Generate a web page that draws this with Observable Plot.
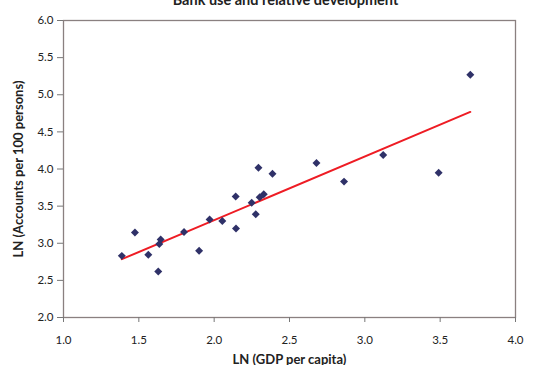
<!DOCTYPE html>
<html>
<head>
<meta charset="utf-8">
<script src="https://cdn.jsdelivr.net/npm/d3@7"></script>
<script src="https://cdn.jsdelivr.net/npm/@observablehq/plot@0.6"></script>
<style>
  html, body { margin: 0; padding: 0; background: #fff; overflow: hidden; }
  #chart svg { font-family: Lato, "DejaVu Sans", sans-serif; }
  g[aria-label="x-axis label"] text, g[aria-label="y-axis label"] text { font-weight: bold; font-size: 13px; fill: #222; }
</style>
</head>
<body>
<div id="chart"></div>
<script>
const title = "Bank use and relative development";
const xLabel = "LN (GDP per capita)";
const yLabel = "LN (Accounts per 100 persons)";
const xTicks = [1.0, 1.5, 2.0, 2.5, 3.0, 3.5, 4.0];
const yTicks = [2.0, 2.5, 3.0, 3.5, 4.0, 4.5, 5.0, 5.5, 6.0];

// LN(GDP per capita) and LN(Accounts per 100 persons)
const gdp = [1.387, 1.474, 1.563, 1.629, 1.636, 1.645, 1.80, 1.90, 1.97, 2.054, 2.145, 2.143,
             2.249, 2.276, 2.302, 2.329, 2.294, 2.387, 2.679, 2.862, 3.122, 3.49, 3.70];
const accounts = [2.83, 3.145, 2.845, 2.62, 2.99, 3.05, 3.15, 2.90, 3.32, 3.30, 3.20, 3.63,
                  3.545, 3.39, 3.62, 3.66, 4.016, 3.935, 4.08, 3.83, 4.19, 3.95, 5.27];

const data = gdp.map((x, i) => ({x, y: accounts[i]}));

const chart = Plot.plot({
  width: 536,
  height: 365,
  marginLeft: 63,
  marginRight: 21,
  marginTop: 20,
  marginBottom: 48,
  style: {fontSize: "11.5px", color: "#222", background: "#fff"},
  x: {domain: [1, 4]},
  y: {domain: [2, 6]},
  marks: [
    Plot.frame({stroke: "#8a8080", strokeWidth: 1.3}),
    Plot.axisX({ticks: xTicks, tickFormat: d3.format(".1f"), tickSize: 5, tickPadding: 13,
                stroke: "#777", label: xLabel, labelAnchor: "center", labelArrow: false, labelOffset: 46}),
    Plot.axisY({ticks: yTicks, tickFormat: d3.format(".1f"), tickSize: 6, tickPadding: 4,
                stroke: "#777", label: yLabel, labelAnchor: "center", labelArrow: false, labelOffset: 50}),
    Plot.linearRegressionY(data, {x: "x", y: "y", ci: 0, stroke: "#ee1c24", strokeWidth: 2}),
    Plot.dot(data, {x: "x", y: "y", symbol: "diamond2", r: 3.6, fill: "#2f3168", stroke: "none"}),
    Plot.text([title], {frameAnchor: "top", dy: -16, dx: -4, lineAnchor: "bottom",
                        fontWeight: "bold", fontSize: 14.5, fill: "#222"})
  ]
});
document.getElementById("chart").appendChild(chart);
</script>
</body>
</html>
